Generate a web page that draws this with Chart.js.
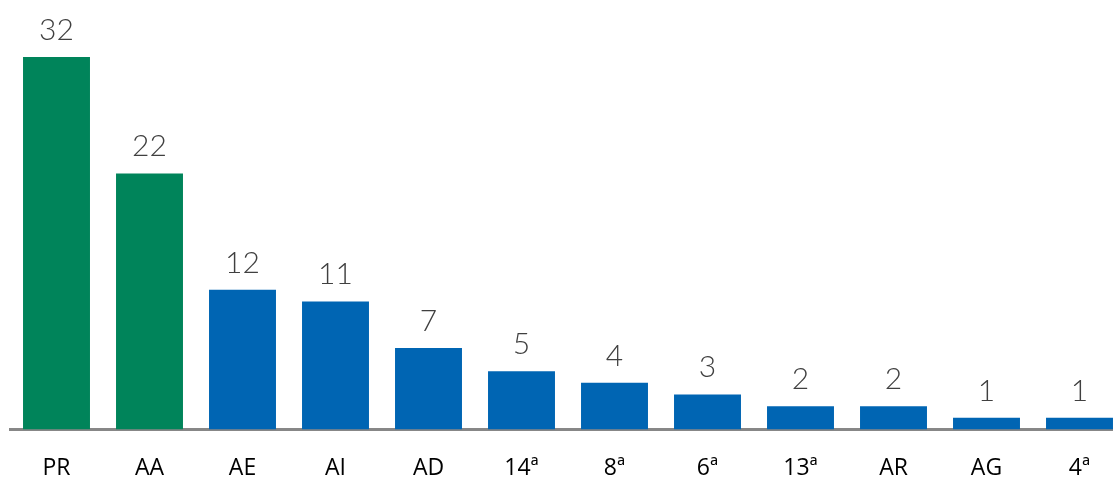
<!DOCTYPE html>
<html>
<head>
<meta charset="utf-8">
<script src="https://cdn.jsdelivr.net/npm/chart.js@4"></script>
<style>
  html, body { margin: 0; padding: 0; background: #fff; overflow: hidden; }
  #wrap { width: 1126px; height: 499px; position: relative; }
</style>
</head>
<body>
<div id="wrap"><canvas id="myChart"></canvas></div>
<script>
// categories and counts
const categories = ["PR", "AA", "AE", "AI", "AD", "14ª", "8ª", "6ª", "13ª", "AR", "AG", "4ª"];
const counts = [32, 22, 12, 11, 7, 5, 4, 3, 2, 2, 1, 1];
const greenCount = 2; // first two bars are green

const GREEN = "#00845a";
const BLUE = "#0065b3";
const barColors = counts.map((v, i) => (i < greenCount ? GREEN : BLUE));

// writes the value above each bar
const valueLabels = {
  id: "valueLabels",
  afterDatasetsDraw(chart) {
    const ctx = chart.ctx;
    const meta = chart.getDatasetMeta(0);
    ctx.save();
    ctx.font = "300 30px Lato";
    ctx.fillStyle = "#404040";
    ctx.textAlign = "center";
    ctx.textBaseline = "alphabetic";
    meta.data.forEach((bar, i) => {
      ctx.fillText(String(counts[i]), bar.x, bar.y - 17);
    });
    ctx.restore();
  },
};

const chart = new Chart(document.getElementById("myChart"), {
  type: "bar",
  data: {
    labels: categories,
    datasets: [
      {
        data: counts,
        backgroundColor: barColors,
        borderWidth: 0,
        categoryPercentage: 1,
        barPercentage: 0.72,
      },
    ],
  },
  options: {
    responsive: true,
    maintainAspectRatio: false,
    animation: false,
    layout: { padding: { left: 10, right: 0, top: 0, bottom: 0 } },
    plugins: { legend: { display: false }, tooltip: { enabled: false } },
    scales: {
      x: {
        grid: { display: false },
        border: { display: true, color: "#878787", width: 3 },
        ticks: {
          color: "#000",
          font: { family: "Open Sans", size: 23 },
          padding: 17,
          maxRotation: 0,
        },
      },
      y: {
        display: false,
        min: 0,
        max: 36.9,
      },
    },
  },
  plugins: [valueLabels],
});
</script>
</body>
</html>
